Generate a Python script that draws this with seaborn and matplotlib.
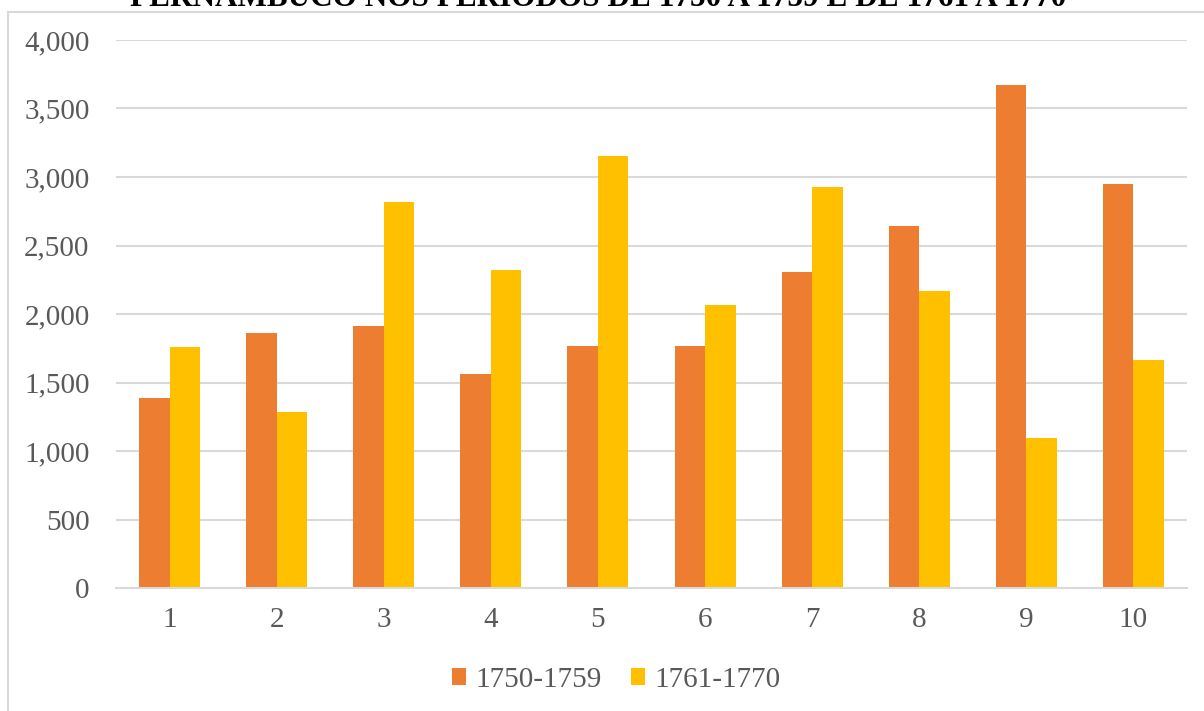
import pandas as pd
import matplotlib.pyplot as plt
import seaborn as sns
from matplotlib.patches import Rectangle
from matplotlib.ticker import FuncFormatter

# values
categories = ['1', '2', '3', '4', '5', '6', '7', '8', '9', '10']
series_1750 = [1390, 1860, 1910, 1563, 1768, 1770, 2303, 2643, 3673, 2947]
series_1761 = [1757, 1287, 2819, 2318, 3155, 2067, 2927, 2165, 1094, 1664]
series_names = ['1750-1759', '1761-1770']
colors = ['#ED7D31', '#FFC000']
title = 'PERNAMBUCO NOS PERÍODOS DE 1750 A 1759 E DE 1761 A 1770'

data = pd.DataFrame({
    'periodo': categories * 2,
    'valor': series_1750 + series_1761,
    'serie': [series_names[0]] * len(categories) + [series_names[1]] * len(categories),
})

sns.set_style('white')
plt.rcParams['font.family'] = ['Liberation Serif', 'DejaVu Serif']

fig = plt.figure(figsize=(12.04, 7.11), dpi=100)
ax = fig.add_axes([116 / 1204, 1 - 588 / 711, (1187 - 116) / 1204, (588 - 40) / 711])

sns.barplot(data=data, x='periodo', y='valor', hue='serie', palette=colors,
            width=0.57, gap=0, saturation=1, ax=ax, legend=True,
            linewidth=0, edgecolor='none')

ax.set_ylim(0, 4000)
ax.set_xlim(-0.5, 9.5)
ax.set_yticks(range(0, 4001, 500))
ax.yaxis.set_major_formatter(FuncFormatter(lambda v, p: f'{int(v):,}'))
ax.grid(axis='y', color='#d9d9d9', linewidth=1.5)
ax.set_axisbelow(True)
ax.set_xlabel('')
ax.set_ylabel('')
for side in ['top', 'right', 'left']:
    ax.spines[side].set_visible(False)
ax.spines['bottom'].set_color('#d9d9d9')
ax.spines['bottom'].set_linewidth(1.5)
ax.tick_params(axis='both', length=0, labelsize=21, labelcolor='#595959')
ax.tick_params(axis='y', pad=19)
ax.tick_params(axis='x', pad=14)

# legend at the bottom
handles, labels = ax.get_legend_handles_labels()
ax.get_legend().remove()
fig.legend(handles, labels, loc='center', bbox_to_anchor=(616 / 1204, 1 - 680 / 711),
           ncol=2, frameon=False, fontsize=21, labelcolor='#595959',
           handlelength=0.5, handleheight=0.5, handletextpad=0.3, columnspacing=1.0)

# outer chart border
fig.patches.append(Rectangle((8 / 1204, -0.01), 1.0, 1 - 12 / 711 + 0.01,
                             transform=fig.transFigure, fill=False,
                             edgecolor='#d9d9d9', linewidth=1.5))

# title, clipped by the top of the picture
fig.text(598 / 1204, 1 - 6 / 711, title, ha='center', va='baseline',
         fontsize=22.5, fontweight='bold', color='black')

plt.savefig('out.png', dpi=100)
plt.close()
